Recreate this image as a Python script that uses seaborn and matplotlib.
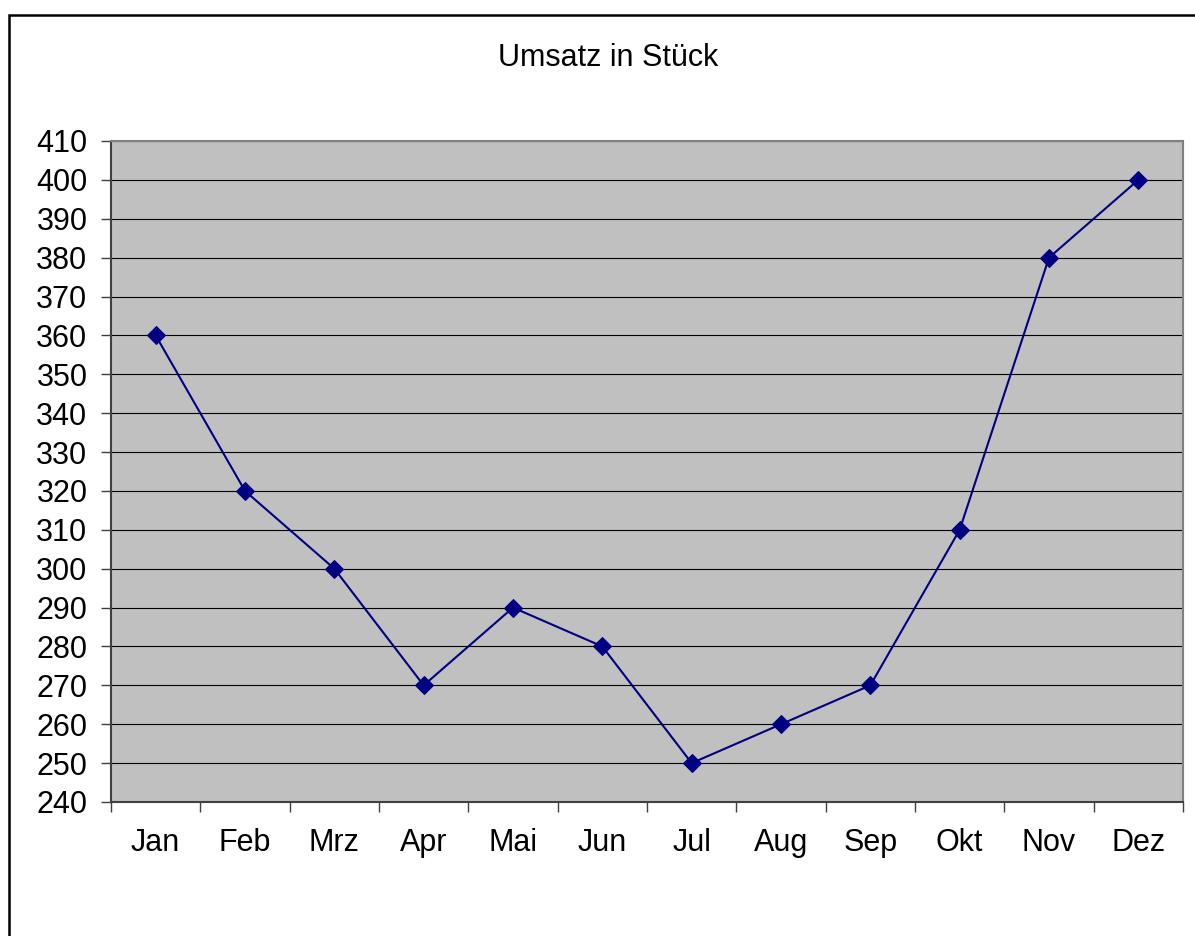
import matplotlib
matplotlib.use("Agg")
import matplotlib.pyplot as plt
import seaborn as sns
import pandas as pd
import numpy as np
from matplotlib.patches import Rectangle
from matplotlib.ticker import FixedLocator, MultipleLocator

months = ["Jan", "Feb", "Mrz", "Apr", "Mai", "Jun", "Jul", "Aug", "Sep", "Okt", "Nov", "Dez"]
umsatz = [360, 320, 300, 270, 290, 280, 250, 260, 270, 310, 380, 400]
title = "Umsatz in Stück"

sns.set_style("white")
plt.rcParams["font.family"] = ["Liberation Sans", "DejaVu Sans"]
plt.rcParams["text.color"] = "black"
plt.rcParams["xtick.color"] = "black"
plt.rcParams["ytick.color"] = "black"

W, H = 1195, 936
fig = plt.figure(figsize=(W / 100, H / 100), dpi=100)
left, right, top, bottom = 111, 1183, 141, 802
ax = fig.add_axes([left / W, 1 - bottom / H, (right - left) / W, (bottom - top) / H])
ax.set_facecolor("#C0C0C0")

df = pd.DataFrame({"Monat": months, "Umsatz": umsatz})
sns.lineplot(data=df, x="Monat", y="Umsatz", ax=ax, color="#000080", linewidth=1.5,
             marker="D", markersize=9.5, markeredgecolor="#000080", markerfacecolor="#000080",
             sort=False, zorder=5)

ax.set_xlim(-0.5, len(months) - 0.5)
ax.set_ylim(240, 410)
ax.yaxis.set_major_locator(MultipleLocator(10))
ax.grid(axis="y", color="black", linewidth=0.8, zorder=1)
ax.set_axisbelow(True)

# x ticks at category boundaries, labels at centers
ax.xaxis.set_major_locator(FixedLocator(np.arange(-0.5, len(months), 1.0)))
ax.xaxis.set_minor_locator(FixedLocator(np.arange(len(months))))
ax.set_xticklabels([])
ax.set_xticklabels(months, minor=True)
ax.tick_params(axis="x", which="major", direction="out", length=7, width=1, color="#404040", bottom=True)
ax.tick_params(axis="x", which="minor", length=0, pad=19, labelsize=22, labelcolor="black")
ax.tick_params(axis="y", direction="out", length=7, width=1, color="#404040", left=True,
               labelsize=22, pad=10, labelcolor="black")

for s in ["left", "bottom"]:
    ax.spines[s].set_color("#404040")
    ax.spines[s].set_linewidth(1.5)
for s in ["top", "right"]:
    ax.spines[s].set_color("#808080")
    ax.spines[s].set_linewidth(1.5)

ax.set_xlabel("")
ax.set_ylabel("")

fig.text(608 / W, 1 - 58 / H, title, ha="center", va="center", fontsize=22, color="black")

# outer chart frame
frame = Rectangle((9 / W, -0.05), 1.2, 1 - 15 / H + 0.05, transform=fig.transFigure,
                  fill=False, edgecolor="black", linewidth=1.8, clip_on=False)
fig.patches.append(frame)

fig.savefig("out.png", dpi=100)
